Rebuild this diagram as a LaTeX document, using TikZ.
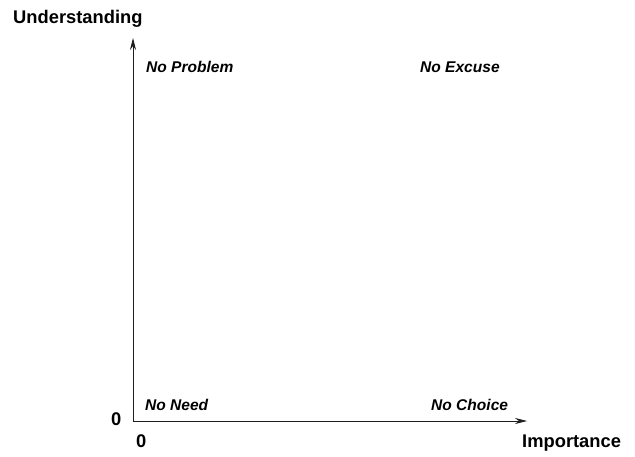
\documentclass[tikz,border=0pt]{standalone}
\usepackage{fontspec}
\setmainfont{Liberation Sans}
\usetikzlibrary{arrows.meta}
\definecolor{axisgray}{RGB}{30, 30, 30}

\begin{document}
\begin{tikzpicture}[x=1bp, y=-1bp, >={Stealth[length=12bp, width=6bp, inset=4bp]},
    axislabel/.style={font=\fontsize{18.4}{20}\selectfont\bfseries, anchor=base west, inner sep=0pt},
    quadlabel/.style={font=\fontsize{15.6}{18}\selectfont\bfseries\itshape, anchor=base west, inner sep=0pt}]
  \useasboundingbox (0,0) rectangle (635,457);

  % Axes
  \coordinate (O) at (133,421);
  \coordinate (ytip) at (133,38);
  \coordinate (xtip) at (527,421);
  \draw[->, axisgray, line width=0.8bp] (O) -- (ytip);
  \draw[->, axisgray, line width=0.8bp] (O) -- (xtip);

  % Axis titles and zeros
  \node[axislabel] (ulabel) at (13,24) {Understanding};
  \node[axislabel] (ilabel) at (522,447) {Importance};
  \node[axislabel] (yzero) at (111,425) {0};
  \node[axislabel] (xzero) at (136,447) {0};

  % Quadrants
  \node[quadlabel] (noproblem) at (146,73) {No Problem};
  \node[quadlabel] (noexcuse) at (420,73) {No Excuse};
  \node[quadlabel] (noneed) at (145,410) {No Need};
  \node[quadlabel] (nochoice) at (431,410) {No Choice};
\end{tikzpicture}
\end{document}
